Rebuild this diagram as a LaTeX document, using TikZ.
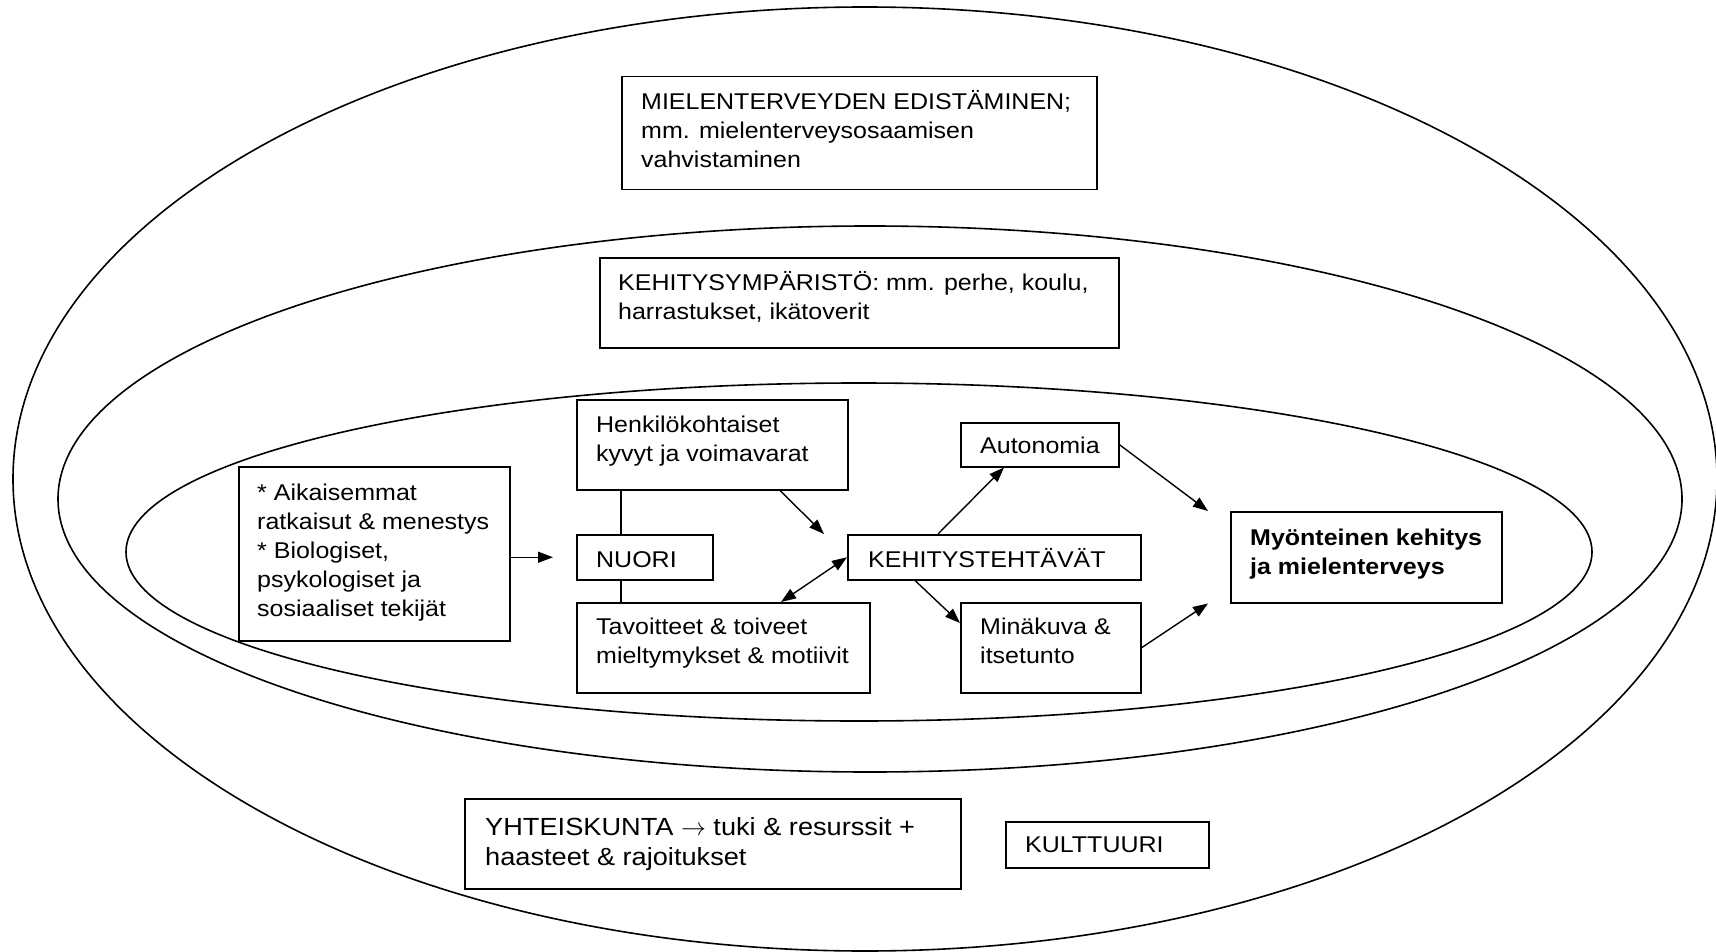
\documentclass[tikz,border=0pt]{standalone}
\usepackage{fontspec}
\newfontfamily\wfont[FakeStretch=1.096]{Liberation Sans}
\usetikzlibrary{arrows.meta}
\tikzset{
  box/.style={draw, line width=1.5pt, rectangle, inner sep=0pt, anchor=north west, fill=white},
  txt/.style={font=\wfont\fontsize{22.8}{29}\selectfont, align=left, inner sep=0pt, anchor=north west},
  bigtxt/.style={txt, font=\wfont\fontsize{24.8}{30}\selectfont},
  ring/.style={line width=1.6pt},
  conn/.style={line width=1.4pt},
  arr/.style={conn, -{Triangle[length=15pt,width=11pt]}},
  darr/.style={conn, {Triangle[length=15pt,width=11pt]}-{Triangle[length=15pt,width=11pt]}}
}
\begin{document}
\begin{tikzpicture}[x=1pt,y=-1pt]
\useasboundingbox (0,0) rectangle (1716,952);
% ellipses
\draw[ring] (865,479) ellipse [x radius=852, y radius=472];
\draw[ring] (870,499) ellipse [x radius=812, y radius=273];
\draw[ring] (859,552) ellipse [x radius=733, y radius=169];
% boxes
\node[box, minimum width=475pt, minimum height=113pt] (miel) at (621,76) {};
\node[box, minimum width=519pt, minimum height=90pt] (kehy) at (599,257) {};
\node[box, minimum width=271pt, minimum height=90pt] (henk) at (576,399) {};
\node[box, minimum width=136pt, minimum height=45pt] (nuori) at (576,534) {};
\node[box, minimum width=293pt, minimum height=45pt] (kteht) at (847,534) {};
\node[box, minimum width=293pt, minimum height=90pt] (tav) at (576,602) {};
\node[box, minimum width=158pt, minimum height=44pt] (auto) at (960,422) {};
\node[box, minimum width=180pt, minimum height=90pt] (mina) at (960,602) {};
\node[box, minimum width=271pt, minimum height=174pt] (aik) at (238,466) {};
\node[box, minimum width=271pt, minimum height=91pt] (myon) at (1230,511) {};
\node[box, minimum width=496pt, minimum height=90pt] (yht) at (464,798) {};
\node[box, minimum width=203pt, minimum height=46pt] (kult) at (1005,821) {};
% texts
\node[txt] (miel-t) at (641,88.7) {\strut MIELENTERVEYDEN EDISTÄMINEN;\\mm. mielenterveysosaamisen\\vahvistaminen};
\node[txt] (kehy-t) at (618,269.7) {\strut KEHITYSYMPÄRISTÖ: mm. perhe, koulu,\\harrastukset, ikätoverit};
\node[txt] (henk-t) at (596,411.7) {\strut Henkilökohtaiset\\kyvyt ja voimavarat};
\node[txt] (nuori-t) at (596,546.7) {\strut NUORI};
\node[txt] (kteht-t) at (868,546.7) {\strut KEHITYSTEHTÄVÄT};
\node[txt] (auto-t) at (980,432.7) {\strut Autonomia};
\node[txt] (tav-t) at (596,613.7) {\strut Tavoitteet \& toiveet\\mieltymykset \& motiivit};
\node[txt] (mina-t) at (980,613.7) {\strut Minäkuva \&\\itsetunto};
\node[txt] (aik-t) at (257,479.7) {\strut * Aikaisemmat\\ratkaisut \& menestys\\* Biologiset,\\psykologiset ja\\sosiaaliset tekijät};
\node[txt, font=\wfont\bfseries\fontsize{22.8}{29}\selectfont] (myon-t) at (1250,524.7) {\strut Myönteinen kehitys\\ja mielenterveys};
\node[bigtxt] (yht-t) at (485,814) {\strut YHTEISKUNTA $\rightarrow$ tuki \& resurssit +\\haasteet \& rajoitukset};
\node[txt] (kult-t) at (1025,831.7) {\strut KULTTUURI};
% connectors
\draw[arr, shorten >=23pt] (aik.east |- nuori.west) -- (nuori.west);
\draw[conn] ([xshift=45pt]henk.south west) -- ([xshift=45pt]nuori.north west);
\draw[conn] ([xshift=45pt]nuori.south west) -- ([xshift=45pt]tav.north west);
\draw[arr] ([xshift=204pt]henk.south west) -- ([xshift=-23pt]kteht.north west);
\draw[darr] ([xshift=205pt]tav.north west) -- (kteht.west);
\draw[arr] ([xshift=91pt]kteht.north west) -- ([xshift=44pt]auto.south west);
\draw[arr] ([xshift=68pt]kteht.south west) -- ([yshift=-21pt]mina.north west);
\draw[arr] (auto.east) -- ([xshift=-22pt]myon.north west);
\draw[arr] (mina.east) -- ([xshift=-22pt]myon.south west);
\end{tikzpicture}
\end{document}
